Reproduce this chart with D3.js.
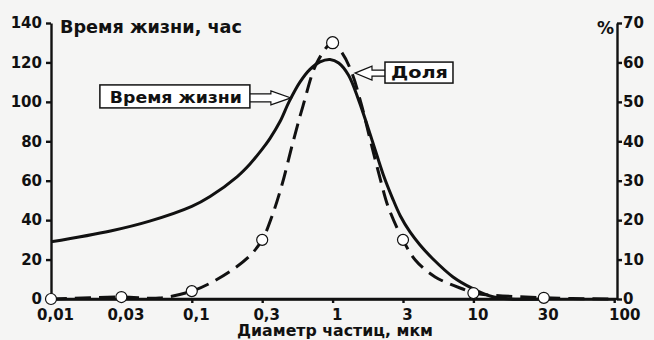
<!DOCTYPE html>
<html>
<head>
<meta charset="utf-8">
<script src="https://cdn.jsdelivr.net/npm/d3@7"></script>
<style>
  body { margin: 0; background: #f5f5f4; }
  svg { display: block; }
  text { font-family: "DejaVu Sans", sans-serif; font-weight: bold; fill: #111; }
  .axis path, .axis line { stroke: #111; stroke-width: 2.4; }
  .axis text { font-size: 15px; font-family: "DejaVu Sans", sans-serif; font-weight: bold; fill: #111; }
</style>
</head>
<body>
<div id="chart"></div>
<script>
const svgWidth = 654;
const svgHeight = 340;

// x axis: diameter ticks, equally spaced on the sheet
const tickDiam = [0.01, 0.03, 0.1, 0.3, 1, 3, 10, 30, 100];
const tickLabels = ["0,01", "0,03", "0,1", "0,3", "1", "3", "10", "30", "100"];

// left axis (hours) and right axis (%)
const hourTicks = [0, 20, 40, 60, 80, 100, 120, 140];
const pctTicks = [0, 10, 20, 30, 40, 50, 60, 70];

// lifetime curve, hours
const lifeDiam  = [0.01, 0.0253, 0.0486, 0.1, 0.133, 0.2025, 0.248, 0.3,  0.343, 0.407, 0.4746, 0.572, 0.679, 0.806, 0.957, 1.1,   1.28,  1.5, 1.849, 2.208, 2.544, 2.88, 3.381, 4.014, 5.01, 7.056, 10,  12.96, 17.7, 30];
const lifeHours = [29,   34.5,   39.5,   47,  52,    62,     68.5,  76,   81.5,  90,    100,    110,   116.5, 120.3, 121.5, 119.7, 113.6, 101, 80.7,  62.9,  51.2,  42.1, 34,    27.4,  20.3, 11.2,  5.1, 1.5,   0,    0];

// share curve, %
const shareDiam = [0.01, 0.03, 0.0575, 0.1, 0.133, 0.19, 0.248, 0.3, 0.3547, 0.421, 0.508, 0.603, 0.766, 1,  1.15, 1.344, 1.57, 1.8,  2.14, 2.385, 3,  3.7, 5.2, 8.66, 10,  30,  100];
const sharePct  = [0,    0.5,  0.25,   2,   4,     7.5,  11,    15,  21,     29,    39.8,  49,    60,    65, 62.6, 57.6,  49.2, 40.3, 29.4, 23.3,  15, 9.9, 5.6, 2.3,  1.5, 0.3, 0];

// measured points (circles)
const markDiam = [0.01, 0.03, 0.1, 0.3, 1, 3, 10, 30];
const markPct  = [0,    0.5,  2,   15,  65, 15, 1.5, 0.3];

const plot = { left: 51, right: 617, top: 23, bottom: 299 };
const step = 70.4;

// piecewise scale on log10 of diameter so 1-3-10 sit at equal spacing
const xPos = d3.scaleLinear()
  .domain(tickDiam.map(Math.log10))
  .range(tickDiam.map((d, i) => plot.left + i * step));
const x = d => xPos(Math.log10(d));

const yHours = d3.scaleLinear().domain([0, 140]).range([plot.bottom, plot.top]);
const yPct = d3.scaleLinear().domain([0, 70]).range([plot.bottom, plot.top]);

const svg = d3.select("#chart")
  .append("svg")
  .attr("width", svgWidth)
  .attr("height", svgHeight);

svg.append("rect")
  .attr("width", svgWidth)
  .attr("height", svgHeight)
  .attr("fill", "#f5f5f4");

// x axis
const bottomAxis = d3.axisBottom(xPos)
  .tickValues(tickDiam.map(Math.log10))
  .tickFormat((d, i) => tickLabels[i])
  .tickSize(4)
  .tickSizeOuter(0)
  .tickPadding(6);

svg.append("g")
  .attr("class", "axis")
  .attr("transform", `translate(0, ${plot.bottom})`)
  .call(bottomAxis)
  .selectAll("text")
  .attr("dx", (d, i) => i === tickDiam.length - 1 ? 10 : 4);

// base line runs on to the right axis
svg.append("line")
  .attr("x1", plot.left).attr("x2", plot.right)
  .attr("y1", plot.bottom).attr("y2", plot.bottom)
  .attr("stroke", "#111").attr("stroke-width", 2.6);

// left axis
svg.append("g")
  .attr("class", "axis")
  .attr("transform", `translate(${plot.left}, 0)`)
  .call(d3.axisLeft(yHours).tickValues(hourTicks).tickSize(5).tickSizeOuter(0).tickPadding(4));

// right axis
svg.append("g")
  .attr("class", "axis")
  .attr("transform", `translate(${plot.right}, 0)`)
  .call(d3.axisRight(yPct).tickValues(pctTicks).tickSize(5).tickSizeOuter(0).tickPadding(1));

svg.selectAll(".axis .domain").attr("stroke-width", 2.6);

// axis titles
svg.append("text")
  .attr("x", 60).attr("y", 33)
  .attr("font-size", 17)
  .attr("textLength", 182).attr("lengthAdjust", "spacingAndGlyphs")
  .text("Время жизни, час");

svg.append("text")
  .attr("x", 597).attr("y", 34)
  .attr("font-size", 17)
  .text("%");

svg.append("text")
  .attr("x", 237).attr("y", 336)
  .attr("font-size", 15)
  .attr("textLength", 196).attr("lengthAdjust", "spacingAndGlyphs")
  .text("Диаметр частиц, мкм");

// curves
const lifeLine = d3.line()
  .x(d => x(d[0]))
  .y(d => yHours(d[1]))
  .curve(d3.curveCatmullRom.alpha(0.5));

const shareLine = d3.line()
  .x(d => x(d[0]))
  .y(d => yPct(d[1]))
  .curve(d3.curveCatmullRom.alpha(0.5));

svg.append("path")
  .datum(lifeDiam.map((d, i) => [d, lifeHours[i]]))
  .attr("d", lifeLine)
  .attr("fill", "none")
  .attr("stroke", "#111")
  .attr("stroke-width", 3);

svg.append("path")
  .datum(shareDiam.map((d, i) => [d, sharePct[i]]))
  .attr("d", shareLine)
  .attr("fill", "none")
  .attr("stroke", "#111")
  .attr("stroke-width", 3)
  .attr("stroke-dasharray", "16,8");

svg.selectAll("circle.mark")
  .data(markDiam.map((d, i) => [d, markPct[i]]))
  .enter()
  .append("circle")
  .attr("class", "mark")
  .attr("cx", d => x(d[0]))
  .attr("cy", d => yPct(d[1]))
  .attr("r", (d, i) => markPct[i] > 50 ? 6 : 5.5)
  .attr("fill", "#fff")
  .attr("stroke", "#111")
  .attr("stroke-width", 1.2);

// callout "Время жизни" -> lifetime curve
const lifeTip = [x(0.49), yHours(102)];
const lb = { x: lifeTip[0] - 191, y: lifeTip[1] - 13, w: 150, h: 23 };

svg.append("path")
  .attr("d", `M${lb.x + lb.w},${lifeTip[1] - 4} H${lifeTip[0] - 20} V${lifeTip[1] - 7} L${lifeTip[0]},${lifeTip[1]} L${lifeTip[0] - 20},${lifeTip[1] + 7} V${lifeTip[1] + 4} H${lb.x + lb.w}`)
  .attr("fill", "#fff")
  .attr("stroke", "#111")
  .attr("stroke-width", 1.2);

svg.append("rect")
  .attr("x", lb.x).attr("y", lb.y)
  .attr("width", lb.w).attr("height", lb.h)
  .attr("fill", "#fff")
  .attr("stroke", "#111")
  .attr("stroke-width", 1.5);

svg.append("text")
  .attr("x", lb.x + 10).attr("y", lb.y + 18)
  .attr("font-size", 16)
  .attr("textLength", 132).attr("lengthAdjust", "spacingAndGlyphs")
  .text("Время жизни");

// callout "Доля" -> share curve
const shareTip = [x(1.418), yPct(57.3)];
const sb = { x: shareTip[0] + 30, y: shareTip[1] - 11, w: 68, h: 21 };

svg.append("path")
  .attr("d", `M${sb.x},${shareTip[1] - 3} H${shareTip[0] + 17} V${shareTip[1] - 7} L${shareTip[0]},${shareTip[1]} L${shareTip[0] + 17},${shareTip[1] + 7} V${shareTip[1] + 3} H${sb.x}`)
  .attr("fill", "#fff")
  .attr("stroke", "#111")
  .attr("stroke-width", 1.2);

svg.append("rect")
  .attr("x", sb.x).attr("y", sb.y)
  .attr("width", sb.w).attr("height", sb.h)
  .attr("fill", "#fff")
  .attr("stroke", "#111")
  .attr("stroke-width", 1.5);

svg.append("text")
  .attr("x", sb.x + 6).attr("y", sb.y + 16)
  .attr("font-size", 16)
  .attr("textLength", 57).attr("lengthAdjust", "spacingAndGlyphs")
  .text("Доля");
</script>
</body>
</html>
